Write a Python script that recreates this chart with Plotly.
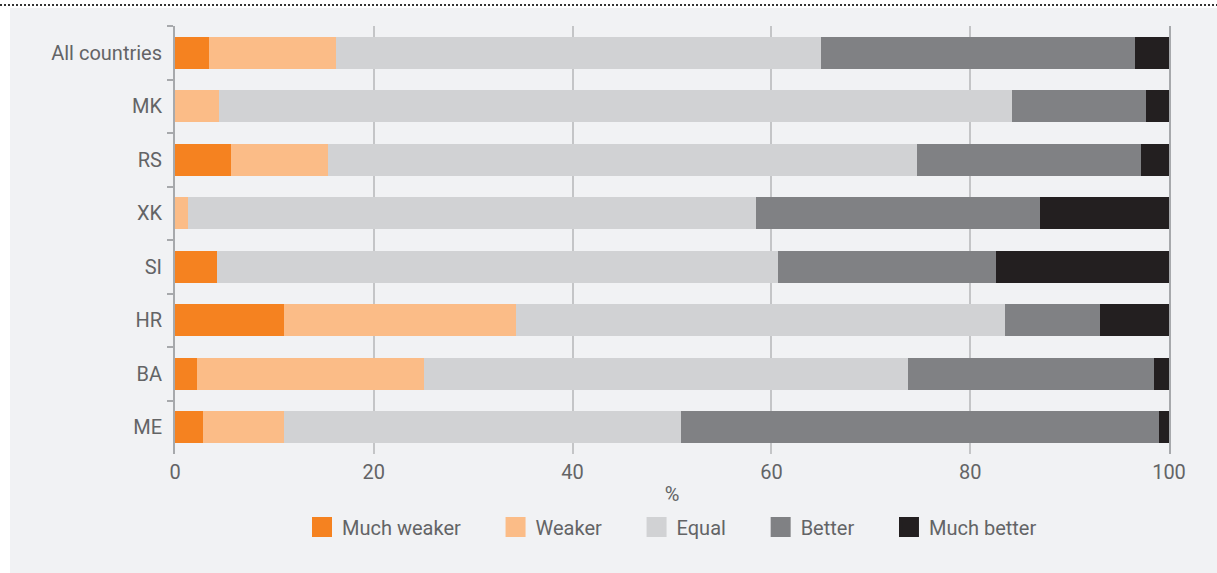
import plotly.graph_objects as go

categories = ["All countries", "MK", "RS", "XK", "SI", "HR", "BA", "ME"]
series_names = ["Much weaker", "Weaker", "Equal", "Better", "Much better"]
much_weaker = [3.4, 0.0, 5.6, 0.0, 4.2, 11.0, 2.2, 2.8]
weaker      = [12.8, 4.4, 9.8, 1.3, 0.0, 23.3, 22.9, 8.2]
equal       = [48.8, 79.8, 59.2, 57.1, 56.5, 49.2, 48.6, 39.9]
better      = [31.6, 13.5, 22.6, 28.6, 21.9, 9.6, 24.8, 48.1]
much_better = [3.4, 2.3, 2.8, 13.0, 17.4, 6.9, 1.5, 1.0]
x_ticks = [0, 20, 40, 60, 80, 100]
x_title = "%"

colors = ["#f58220", "#fbbc87", "#d1d2d4", "#808184", "#231f20"]
values = [much_weaker, weaker, equal, better, much_better]

W, H = 1217, 573
ML, MR, MT, MB = 175, 48, 26, 119
PW, PH = W - ML - MR, H - MT - MB
BG = "#f1f2f4"
TXT = "#636466"
FONT = "Roboto"
PAD = "\u00a0" * 6

def px_x(p):
    return (p - ML) / PW

def px_y(p):
    return (H - MB - p) / PH

fig = go.Figure()
for name, vals, col in zip(series_names, values, colors):
    fig.add_trace(go.Bar(
        y=categories, x=vals, name=name, orientation="h",
        marker=dict(color=col, line=dict(width=0)),
        showlegend=False, hoverinfo="x+y+name",
    ))
for i, (name, col) in enumerate(zip(series_names, colors)):
    label = name + (PAD if i < len(series_names) - 1 else "")
    fig.add_trace(go.Scatter(
        x=[None], y=[None], mode="markers", name=label,
        marker=dict(symbol="square", size=16, color=col, line=dict(color=col, width=4)),
        showlegend=True,
    ))

fig.update_layout(
    width=W, height=H,
    margin=dict(l=ML, r=MR, t=MT, b=MB, pad=0),
    barmode="stack", bargap=0.4,
    paper_bgcolor="white", plot_bgcolor=BG,
    font=dict(family=FONT, size=20, color=TXT),
    showlegend=True,
    legend=dict(orientation="h", x=0.5, xanchor="center", y=px_y(527), yanchor="middle",
                font=dict(family=FONT, size=20, color=TXT), bgcolor="rgba(0,0,0,0)",
                itemsizing="trace", traceorder="normal"),
    xaxis=dict(range=[0, 100], tickvals=x_ticks, showgrid=True, gridcolor="#c4c5c7", gridwidth=1.5,
               zeroline=False, showline=False, ticks="", ticklabelstandoff=4,
               tickfont=dict(family=FONT, size=20, color=TXT),
               title=dict(text=x_title, standoff=3, font=dict(family=FONT, size=20, color=TXT))),
    yaxis=dict(categoryorder="array", categoryarray=categories, autorange="reversed",
               showline=True, mirror=True, linecolor="#a7a9ac", linewidth=2,
               ticks="outside", tickson="boundaries", ticklen=6, tickwidth=2, tickcolor="#a7a9ac",
               showgrid=False, zeroline=False, ticklabelstandoff=7,
               tickfont=dict(family=FONT, size=20, color=TXT)),
    shapes=[
        dict(type="rect", xref="paper", yref="paper", x0=px_x(10), x1=px_x(W), y0=px_y(H), y1=px_y(8),
             fillcolor=BG, line=dict(width=0), layer="below"),
        dict(type="line", xref="paper", yref="paper", x0=px_x(0), x1=px_x(W), y0=px_y(5), y1=px_y(5),
             line=dict(color="#333333", width=2, dash="2px,2px"), layer="above"),
    ],
)

fig.write_html("out.html", config={"displayModeBar": False},
               post_script="document.body.style.margin='0px';")
